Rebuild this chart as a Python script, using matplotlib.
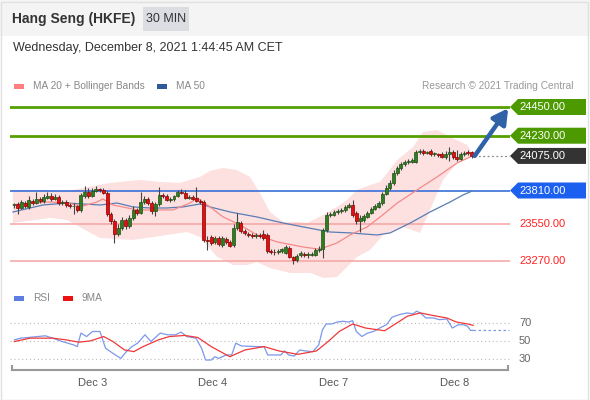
import numpy as np
import matplotlib.pyplot as plt
from matplotlib.patches import Rectangle, Polygon
import matplotlib.transforms as mtransforms

plt.rcParams['font.family'] = ['Liberation Sans', 'DejaVu Sans']

# ---- data (30 min candles, Dec 2 -> Dec 8) ----
opens = [23700, 23705, 23675, 23715, 23685, 23730, 23715, 23745, 23730, 23755,
         23770, 23745, 23760, 23715, 23720, 23700, 23690, 23690, 23660, 23770,
         23800, 23770, 23805, 23820, 23815, 23790, 23630, 23575, 23475, 23525,
         23585, 23540, 23600, 23660, 23640, 23720, 23745, 23715, 23655, 23705,
         23775, 23770, 23735, 23745, 23770, 23800, 23790, 23755, 23760, 23755,
         23730, 23720, 23430, 23455, 23415, 23445, 23395, 23440, 23415, 23395,
         23525, 23560, 23500, 23475, 23470, 23460, 23470, 23475, 23470, 23345,
         23340, 23340, 23345, 23330, 23370, 23300, 23280, 23315, 23325, 23315,
         23315, 23315, 23355, 23360, 23510, 23620, 23620, 23645, 23655, 23660,
         23685, 23700, 23640, 23575, 23585, 23605, 23640, 23670, 23685, 23715,
         23785, 23830, 23870, 23945, 23985, 24015, 24030, 24030, 24030, 24105,
         24115, 24100, 24115, 24090, 24090, 24090, 24065, 24090, 24105, 24065,
         24050, 24090, 24105, 24105]
closes = [23705, 23675, 23720, 23690, 23735, 23715, 23745, 23730, 23760, 23770,
          23745, 23760, 23715, 23720, 23700, 23690, 23695, 23660, 23775, 23800,
          23770, 23805, 23820, 23815, 23790, 23630, 23575, 23475, 23525, 23585,
          23540, 23600, 23660, 23640, 23720, 23745, 23715, 23655, 23705, 23775,
          23770, 23735, 23745, 23770, 23800, 23790, 23755, 23760, 23745, 23730,
          23720, 23430, 23425, 23410, 23445, 23400, 23445, 23415, 23385, 23525,
          23570, 23500, 23485, 23470, 23460, 23470, 23460, 23445, 23345, 23340,
          23335, 23345, 23360, 23375, 23300, 23280, 23310, 23330, 23315, 23320,
          23325, 23355, 23360, 23510, 23620, 23630, 23645, 23655, 23660, 23685,
          23700, 23620, 23575, 23600, 23615, 23640, 23670, 23690, 23715, 23785,
          23830, 23870, 23945, 23985, 24015, 24030, 24035, 24045, 24105, 24115,
          24100, 24105, 24090, 24095, 24085, 24065, 24090, 24105, 24065, 24050,
          24090, 24095, 24100, 24075]
highs = [23715, 23720, 23735, 23730, 23770, 23745, 23800, 23760, 23785, 23800,
         23790, 23785, 23775, 23735, 23735, 23715, 23715, 23700, 23790, 23845,
         23830, 23830, 23845, 23830, 23830, 23805, 23645, 23590, 23555, 23605,
         23600, 23620, 23690, 23675, 23800, 23770, 23760, 23730, 23720, 23835,
         23790, 23785, 23760, 23775, 23815, 23820, 23815, 23775, 23775, 23835,
         23745, 23735, 23460, 23470, 23460, 23460, 23460, 23455, 23430, 23555,
         23640, 23575, 23515, 23490, 23485, 23485, 23485, 23510, 23485, 23360,
         23360, 23360, 23370, 23395, 23385, 23310, 23325, 23345, 23340, 23340,
         23340, 23370, 23385, 23525, 23645, 23645, 23660, 23670, 23675, 23700,
         23715, 23735, 23655, 23620, 23630, 23655, 23685, 23705, 23730, 23800,
         23850, 23890, 23965, 24000, 24030, 24045, 24050, 24060, 24120, 24130,
         24130, 24115, 24130, 24105, 24100, 24105, 24115, 24145, 24120, 24120,
         24105, 24115, 24120, 24115]
lows = [23675, 23630, 23670, 23675, 23670, 23700, 23705, 23715, 23715, 23745,
        23730, 23735, 23700, 23700, 23685, 23675, 23630, 23645, 23645, 23755,
        23755, 23760, 23800, 23800, 23785, 23615, 23555, 23410, 23460, 23510,
        23515, 23525, 23585, 23620, 23630, 23705, 23700, 23630, 23615, 23690,
        23755, 23730, 23720, 23730, 23760, 23785, 23745, 23745, 23735, 23720,
        23705, 23415, 23355, 23395, 23400, 23385, 23375, 23400, 23375, 23375,
        23510, 23485, 23470, 23455, 23445, 23445, 23445, 23430, 23330, 23325,
        23315, 23325, 23330, 23325, 23295, 23245, 23260, 23300, 23300, 23295,
        23310, 23310, 23340, 23295, 23490, 23605, 23615, 23630, 23640, 23645,
        23675, 23605, 23555, 23490, 23570, 23600, 23630, 23660, 23675, 23700,
        23775, 23815, 23850, 23930, 23965, 24000, 24015, 24020, 24020, 24090,
        24080, 24090, 24075, 24075, 24070, 24060, 24050, 24035, 24050, 24035,
        24045, 24075, 24080, 24060]

# moving averages at candle positions
ma20_idx = [-0.3, 4.3, 9.7, 14.2, 18.5, 22.3, 23.9, 26.6, 33.1, 36.6, 42.7, 47.3,
            49.2, 52.7, 56.2, 60.8, 65.3, 70.7, 77.7, 81.5, 83.1, 86.8, 90.3,
            94.9, 98.4, 103.0, 108.3, 113.7, 119.1, 122.6]
ma20_val = [23699, 23714, 23722, 23714, 23691, 23722, 23745, 23699, 23661, 23661,
            23661, 23714, 23753, 23684, 23607, 23546, 23469, 23416, 23377, 23362,
            23370, 23408, 23469, 23531, 23607, 23714, 23814, 23914, 24021, 24067]
ma50_idx = [-0.3, 7.8, 14.2, 23.1, 27.7, 32.0, 36.6, 41.1, 45.4, 50.0, 52.7, 58.1,
            65.3, 72.3, 77.7, 84.9, 90.3, 97.6, 101.1, 106.5, 111.8, 117.2,
            120.7, 123.1]
ma50_val = [23645, 23699, 23714, 23699, 23714, 23684, 23676, 23676, 23684, 23707,
            23684, 23645, 23607, 23561, 23531, 23492, 23485, 23469, 23485, 23561,
            23645, 23722, 23776, 23806]
bb_up_idx = [-0.3, 9.7, 13.2, 18.5, 25.8, 33.9, 39.2, 44.6, 47.3, 50.0, 52.7, 56.2,
             59.9, 63.4, 66.1, 68.8, 72.3, 76.1, 78.8, 83.1, 86.8, 89.5, 92.2,
             95.7, 98.4, 103.0, 107.3, 109.9, 113.7, 117.2, 121.8, 123.1]
bb_up_val = [23814, 23814, 23799, 23829, 23868, 23891, 23875, 23868, 23891, 23914,
             23960, 23983, 23967, 23914, 23791, 23645, 23569, 23569, 23561, 23622,
             23684, 23737, 23814, 23852, 23875, 24044, 24144, 24258, 24274, 24220,
             24159, 24098]
bb_lo_idx = [-0.3, 9.7, 14.2, 23.1, 32.0, 41.1, 46.5, 50.0, 54.6, 58.9, 62.6, 65.3,
             68.8, 74.2, 79.6, 83.1, 86.8, 89.5, 92.2, 95.7, 99.2, 104.6, 109.1,
             112.6, 115.3, 119.1, 122.6]
bb_lo_val = [23561, 23600, 23584, 23446, 23431, 23469, 23492, 23454, 23301, 23239,
             23239, 23262, 23216, 23178, 23178, 23140, 23147, 23224, 23301, 23354,
             23469, 23531, 23485, 23714, 23891, 24021, 24067]

# RSI panel
rsi_idx = [0.1, 1.8, 3.8, 6.4, 8.4, 10.4, 13.0, 16.0, 17.0, 18.0, 19.5, 21.1, 23.1,
           24.6, 26.6, 28.7, 30.2, 31.7, 33.2, 35.2, 36.8, 39.3, 41.3, 43.4, 44.9,
           46.4, 48.9, 50.4, 51.5, 53.0, 54.0, 55.0, 57.0, 58.5, 59.6, 61.1, 65.1,
           67.2, 68.2, 70.2, 71.7, 72.7, 73.8, 75.3, 76.8, 78.3, 80.3, 81.9, 82.9,
           83.9, 85.4, 86.9, 88.4, 89.9, 91.0, 92.0, 93.5, 95.0, 96.6, 98.6, 100.1,
           101.6, 103.6, 105.7, 107.2, 108.2, 109.2, 110.7, 112.8, 114.3, 116.3,
           117.8, 119.4, 120.9, 121.9, 122.7, 123.4]
rsi_val = [51.3, 53.2, 53.9, 55.0, 55.8, 53.2, 49.4, 45.7, 43.8, 58.8, 55.0, 60.6,
           60.6, 42.0, 36.3, 30.7, 38.2, 43.8, 47.6, 56.9, 49.4, 58.8, 56.9, 56.9,
           59.9, 55.0, 53.2, 42.0, 28.9, 28.9, 32.6, 30.7, 34.5, 34.5, 47.6, 44.6,
           43.8, 43.8, 34.5, 34.5, 34.5, 39.0, 34.5, 33.3, 40.1, 39.0, 38.2, 45.7,
           62.5, 68.9, 68.9, 71.1, 71.9, 71.1, 72.6, 60.6, 55.0, 58.8, 60.6, 65.1,
           68.1, 76.4, 79.4, 81.2, 80.1, 83.1, 81.2, 75.6, 75.6, 73.7, 74.5, 64.4,
           68.1, 68.1, 66.3, 61.8, 61.8]
ma9_idx = [0.1, 4.3, 10.4, 14.0, 17.5, 20.6, 24.1, 26.6, 29.7, 32.2, 34.7, 38.8,
           41.8, 45.9, 49.4, 53.0, 58.0, 62.1, 67.2, 71.2, 76.3, 81.3, 84.4, 87.4,
           91.0, 94.5, 99.6, 103.6, 105.7, 109.2, 112.8, 116.3, 118.9, 121.9, 123.4]
ma9_val = [49.4, 53.2, 53.2, 51.3, 48.7, 50.2, 55.0, 49.4, 40.1, 38.2, 43.8, 51.3,
           55.0, 56.2, 53.9, 43.8, 32.6, 40.1, 43.8, 39.0, 35.2, 39.0, 49.4, 60.6,
           68.9, 64.4, 61.4, 71.9, 77.5, 81.2, 78.2, 75.6, 71.1, 68.9, 67.4]

day_pos = [21.0, 53.4, 86.0, 118.5]
day_labels = ['Dec 3', 'Dec 4', 'Dec 7', 'Dec 8']

resistances = [24450, 24230]
pivot = 23810
supports = [23550, 23270]
last_price = 24075
target = 24440

W, H = 590, 400
fig = plt.figure(figsize=(W / 100, H / 100), dpi=100)
fig.patch.set_facecolor('white')


def px_axes(x0, y0, x1, y1):
    a = fig.add_axes([x0 / W, 1 - y1 / H, (x1 - x0) / W, (y1 - y0) / H])
    a.set_axis_off()
    return a


# header
fig.patches.append(Rectangle((0, 1 - 36 / H), 1, 36 / H, transform=fig.transFigure,
                             facecolor='#f4f4f4', edgecolor='none', zorder=0))
fig.patches.append(Rectangle((0.5 / W, 0.5 / H), (W - 3) / W, (H - 2) / H,
                             transform=fig.transFigure, facecolor='none',
                             edgecolor='#e0e0e0', lw=1, zorder=0))
fig.patches.append(Rectangle((143 / W, 1 - 31 / H), 46 / W, 24 / H,
                             transform=fig.transFigure, facecolor='#dcdde2',
                             edgecolor='none', zorder=1))
fig.text(12 / W, 1 - 19 / H, 'Hang Seng (HKFE)', fontsize=10, fontweight='bold',
         color='#333333', va='center')
fig.text(166 / W, 1 - 19 / H, '30 MIN', fontsize=9, color='#333333', va='center', ha='center')
fig.text(13 / W, 1 - 48 / H, 'Wednesday, December 8, 2021 1:44:45 AM CET', fontsize=9,
         color='#333333', va='center')

# legends
def legend_item(x, y, color, label):
    fig.patches.append(Rectangle((x / W, 1 - (y + 2.5) / H), 10 / W, 5 / H,
                                 transform=fig.transFigure, facecolor=color,
                                 edgecolor='none'))
    fig.text((x + 19) / W, 1 - y / H, label, fontsize=7.3, color='#888888', va='center')


legend_item(14, 86, '#ff7f7f', 'MA 20 + Bollinger Bands')
legend_item(157, 86, '#2f5a9a', 'MA 50')
fig.text(573 / W, 1 - 86 / H, 'Research \u00a9 2021 Trading Central', fontsize=7.3,
         color='#999999', va='center', ha='right')
legend_item(14, 298, '#5b7fe0', 'RSI')
legend_item(63, 298, '#ee1111', '9MA')

# ---- price panel ----
n = len(closes)
xl = (-1.075, 133.3)
ax = px_axes(10, 95, 510, 280)
ax.set_xlim(*xl)
ax.set_ylim(23124, 24542)

band_x = bb_up_idx + bb_lo_idx[::-1]
band_y = bb_up_val + bb_lo_val[::-1]
ax.fill(band_x, band_y, color='#fde0e0', lw=0, zorder=1)

for r in resistances:
    ax.axhline(r, color='#55a000', lw=2, zorder=2)
ax.axhline(pivot, color='#3a6fd8', lw=1.2, zorder=2)
for s in supports:
    ax.axhline(s, color='#f4a3a3', lw=1.1, zorder=2)

ax.plot(ma50_idx, ma50_val, color='#5a7db5', lw=0.9, zorder=3)
ax.plot(ma20_idx, ma20_val, color='#f48a8a', lw=0.9, zorder=3)

idx = np.arange(n)
o = np.array(opens)
c = np.array(closes)
ax.vlines(idx, lows, highs, color='#444444', lw=0.8, zorder=4)
up = c >= o
body_lo = np.minimum(o, c)
body_h = np.maximum(np.abs(c - o), 4)
ax.bar(idx[up], body_h[up], bottom=body_lo[up], width=0.8, color='#2f7f22',
       edgecolor='#1f4f17', lw=0.5, zorder=5)
ax.bar(idx[~up], body_h[~up], bottom=body_lo[~up], width=0.8, color='#e01010',
       edgecolor='#8a0000', lw=0.5, zorder=5)

ax.plot([n - 0.5, xl[1]], [last_price, last_price], color='#888888', lw=0.9,
        ls=(0, (1.5, 2)), zorder=3)
ax.annotate('', xy=(132.8, target), xytext=(n - 0.2, last_price),
            arrowprops=dict(arrowstyle='-|>,head_length=0.9,head_width=0.5',
                            color='#2f62a6', lw=3.2, shrinkA=0, shrinkB=0), zorder=6)

# right side labels
tr = mtransforms.blended_transform_factory(fig.transFigure, ax.transData)
ppx = (24542 - 23124) / 185.0


def price_tag(price, color, text_color='white'):
    h = 8 * ppx
    pts = [(510 / W, price), (518 / W, price + h), (586 / W, price + h),
           (586 / W, price - h), (518 / W, price - h)]
    fig.patches.append(Polygon(pts, closed=True, transform=tr, facecolor=color,
                               edgecolor='none', clip_on=False))
    fig.text(519 / W, price, f'{price:.2f}', transform=tr, fontsize=8,
             color=text_color, va='center')


for r in resistances:
    price_tag(r, '#4c9a00')
price_tag(last_price, '#333333')
price_tag(pivot, '#1c60f0')
for s in supports:
    fig.text(519 / W, s, f'{s:.2f}', transform=tr, fontsize=8, color='#ff2020',
             va='center')

# ---- RSI panel ----
ax2 = px_axes(10, 305, 510, 372)
ax2.set_xlim(*xl)
ax2.set_ylim(15.6, 90)
for lvl in (70, 50, 30):
    ax2.axhline(lvl, color='#bbbbbb', lw=0.8, ls=(0, (1, 2.5)))
    fig.text(519 / W, lvl, str(lvl), transform=mtransforms.blended_transform_factory(
        fig.transFigure, ax2.transData), fontsize=8, color='#666666', va='center')
ax2.plot(rsi_idx, rsi_val, color='#7b98ea', lw=0.9)
ax2.plot([rsi_idx[-1], 133.0], [rsi_val[-1], rsi_val[-1]], color='#7b98ea', lw=0.9,
         ls=(0, (2, 2)))
ax2.plot(ma9_idx, ma9_val, color='#f03838', lw=0.9)

# bottom axis
axb = px_axes(10, 365, 510, 372)
axb.set_xlim(*xl)
axb.set_ylim(0, 1)
axb.plot([xl[0] + 0.5, xl[1] - 0.5], [0.3, 0.3], color='#999999', lw=1.5)
axb.plot([xl[0] + 0.5, xl[0] + 0.5], [0.3, 1], color='#999999', lw=1.5)
axb.plot([xl[1] - 0.5, xl[1] - 0.5], [0.3, 1], color='#999999', lw=1.5)
for p, lab in zip(day_pos, day_labels):
    axb.text(p, -1.6, lab, fontsize=8, color='#555555', ha='center', va='center')

fig.savefig('out.png', dpi=100)
